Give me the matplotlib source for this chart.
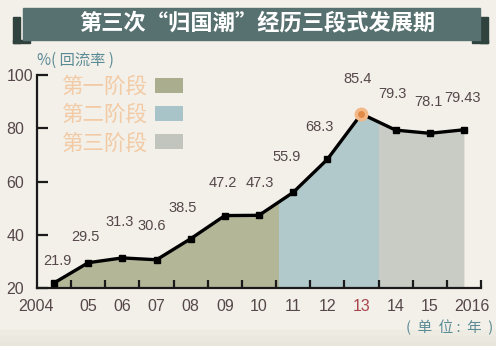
import matplotlib
matplotlib.use("Agg")
import matplotlib.pyplot as plt
import numpy as np
from matplotlib.patches import Rectangle, Patch
from matplotlib.transforms import ScaledTranslation

plt.rcParams['font.family'] = ['Liberation Sans', 'Noto Sans CJK SC', 'DejaVu Sans']

# data
years = [2004, 2005, 2006, 2007, 2008, 2009, 2010, 2011, 2012, 2013, 2014, 2015, 2016]
year_labels = ["2004", "05", "06", "07", "08", "09", "10", "11", "12", "13", "14", "15", "2016"]
rate = [21.9, 29.5, 31.3, 30.6, 38.5, 47.2, 47.3, 55.9, 68.3, 85.4, 79.3, 78.1, 79.43]
rate_text = ["21.9", "29.5", "31.3", "30.6", "38.5", "47.2", "47.3", "55.9", "68.3", "85.4", "79.3", "78.1", "79.43"]
stage_names = ["第一阶段", "第二阶段", "第三阶段"]
stage_bounds = [(2004, 2010.6), (2010.6, 2013.5), (2013.5, 2016.05)]
peak_year = 2013

# layout / style
stage_fill = ["#b4b698", "#b2c9cc", "#c8ccc5"]
stage_box = ["#abae8e", "#a8c4c8", "#c2c5be"]
label_offsets = [(3, 22), (-3, 26), (-3, 36), (-5, 34), (-8, 31), (-2, 33), (1, 32),
                 (-7, 35), (-8, 32), (-4, 35), (-3, 36), (-1, 31), (-1, 32)]
bg = "#f3f0e9"
txt = "#55474a"

fig = plt.figure(figsize=(4.96, 3.46), dpi=100, facecolor=bg)
W, H = 496, 346

def frect(x0, y0, x1, y1, c):
    fig.patches.append(Rectangle((x0 / W, 1 - y1 / H), (x1 - x0) / W, (y1 - y0) / H,
                                 transform=fig.transFigure, color=c, zorder=0))

# bottom shade
for i, c in enumerate(["#eeebe3", "#ebe8df", "#e8e5db"]):
    frect(0, 330 + i * 6, W, 346, c)

# title banner
frect(13, 17, 20, 43, "#2f423e")
frect(13, 40, 30, 43, "#2f423e")
frect(480, 17, 488, 43, "#2f423e")
frect(472, 40, 488, 43, "#2f423e")
frect(23, 8, 480, 40, "#56716f")
fig.text(257 / W, 1 - 23 / H, "第三次“归国潮”经历三段式发展期", ha="center", va="center",
         color="white", fontsize=16, fontweight="bold", family=["Noto Sans CJK SC"])

fig.text(37 / W, 1 - 60 / H, "%( 回流率 )", ha="left", va="center", color="#5a8a94",
         fontsize=11, family=["Noto Sans CJK SC", "DejaVu Sans"])
fig.text(493 / W, 1 - 327 / H, "(  单  位 :  年  )", ha="right", va="center", color="#5a8a94",
         fontsize=10.5, family=["Noto Sans CJK SC"])

ax = fig.add_axes([37 / W, (H - 288) / H, 444 / W, 213 / H])
ax.set_facecolor("none")
ax.set_xlim(2003.5, 2016.5)
ax.set_ylim(20, 100)

for (x0, x1), c in zip(stage_bounds, stage_fill):
    f = ax.fill_between(years, 20, rate, color=c, lw=0, zorder=1)
    f.set_clip_path(Rectangle((x0, 20), x1 - x0, 80, transform=ax.transData))

ax.plot(years, rate, color="black", lw=2.4, marker="s", ms=4.5, zorder=3)
pi = years.index(peak_year)
ax.plot(years[pi], rate[pi], "o", ms=10, color="#f3b888", mec="none", zorder=4)
ax.plot(years[pi], rate[pi], "o", ms=5, color="#e08a48", mec="none", zorder=5)

for x, y, t, (dx, dy) in zip(years, rate, rate_text, label_offsets):
    ax.annotate(t, (x, y), xytext=(dx, dy), textcoords="offset pixels", ha="center",
                va="center", fontsize=10.5, color=txt)

for s in ["top", "right"]:
    ax.spines[s].set_visible(False)
for s in ["left", "bottom"]:
    ax.spines[s].set_linewidth(1.6)
    ax.spines[s].set_color("#1a1a1a")

ax.set_xticks(years)
ax.set_xticklabels(year_labels)
ax.set_xticks(np.arange(2004.5, 2017, 1), minor=True)
ax.tick_params(axis="x", which="major", length=0, pad=8, labelsize=11.5, labelcolor=txt)
ax.tick_params(axis="x", which="minor", direction="in", length=6, width=1.6, color="#1a1a1a")
ax.set_yticks([20, 40, 60, 80, 100])
ax.tick_params(axis="y", direction="in", length=8, width=1.6, color="#1a1a1a", pad=22,
               labelsize=11.5, labelcolor=txt)
for lab in ax.get_yticklabels():
    lab.set_ha("left")
xl = ax.get_xticklabels()
xl[0].set_ha("right")
xl[-1].set_transform(xl[-1].get_transform() + ScaledTranslation(8 / 100, 0, fig.dpi_scale_trans))
xl[years.index(2013)].set_color("#a8454c")

handles = [Patch(facecolor=c, edgecolor="none") for c in stage_box]
leg = ax.legend(handles, stage_names, loc="upper left", bbox_to_anchor=(0.056, 0.995),
                frameon=False, markerfirst=False, labelcolor="#f2cba6",
                handlelength=1.3, handleheight=0.72, handletextpad=0.35, labelspacing=0.28,
                borderaxespad=0, borderpad=0, prop={"family": ["Noto Sans CJK SC"], "size": 15.5})

fig.savefig("out.png", dpi=100, facecolor=bg)
